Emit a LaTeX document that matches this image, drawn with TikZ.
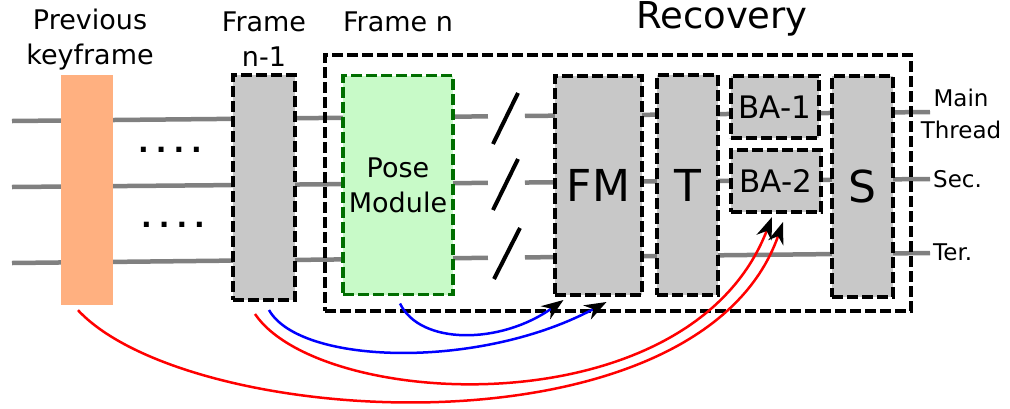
\documentclass[tikz,border=0pt]{standalone}
\usepackage{fontspec}
\setmainfont{DejaVu Sans}
\usetikzlibrary{arrows.meta,calc}
\definecolor{boxgray}{RGB}{200,200,200}
\definecolor{linegray}{RGB}{128,128,128}
\definecolor{kforange}{RGB}{255,176,128}
\definecolor{posegreen}{RGB}{200,250,200}
\definecolor{darkgreen}{RGB}{0,110,0}
\begin{document}
\begin{tikzpicture}[x=1pt,y=-1pt,
  dbox/.style={draw=black, line width=3.5pt, dash pattern=on 11pt off 4pt, fill=boxgray, inner sep=0pt, outer sep=0pt},
  wire/.style={draw=linegray, line width=4.5pt},
  slashmark/.style={draw=black, line width=4pt},
  lbl/.style={font=\fontsize{27}{35}\selectfont, align=center, inner sep=0pt},
  big/.style={font=\fontsize{44}{50}\selectfont},
  mid/.style={font=\fontsize{31}{36}\selectfont},
  outlbl/.style={font=\fontsize{23}{32}\selectfont, align=center, inner sep=0pt},
  arrowtip/.style={-{Stealth[length=22pt,width=16pt,inset=7pt,black]}},
  blueArrow/.style={draw=blue, line width=2.5pt, arrowtip},
  redArrow/.style={draw=red, line width=2.5pt, arrowtip},
  dots/.style={font=\bfseries\fontsize{28}{30}\selectfont, inner sep=0pt}
]
\useasboundingbox (0,0) rectangle (1010,408);

% wire end points
\coordinate (L1) at (12,121); \coordinate (R1) at (930,112);
\coordinate (L2) at (12,187); \coordinate (R2) at (930,179);
\coordinate (L3) at (12,263); \coordinate (R3) at (930,253);
\foreach \i in {1,2,3}{
  \coordinate (G\i a) at ($(L\i)!0.5185!(R\i)$);
  \coordinate (G\i b) at ($(L\i)!0.5588!(R\i)$);
}
\draw[wire] (L1) -- (G1a); \draw[wire] (G1b) -- (R1);
\draw[wire] (L2) -- (G2a); \draw[wire] (G2b) -- (R2);
\draw[wire] (L3) -- (G3a); \draw[wire] (G3b) -- (R3);

% slashes
\draw[slashmark] (493,144) -- (518,93);
\draw[slashmark] (493,210) -- (518,159);
\draw[slashmark] (494,279) -- (520,228);

% boxes
\node[fill=kforange, minimum width=52pt, minimum height=230pt, inner sep=0pt] (kf) at (87,190) {};
\node[dbox, minimum width=62pt, minimum height=225pt] (fn1) at (264,187.5) {};
\node[draw=black, line width=3.5pt, dash pattern=on 11pt off 4pt, minimum width=586pt, minimum height=256pt, inner sep=0pt] (rec) at (618,183) {};
\node[dbox, draw=darkgreen, fill=posegreen, minimum width=110pt, minimum height=219pt, lbl] (pose) at (398,185) {Pose\\Module};
\node[dbox, minimum width=87pt, minimum height=219pt, big] (fm) at (598.5,185.5) {FM};
\node[dbox, minimum width=61pt, minimum height=220pt, big] (t) at (687.5,185) {T};
\node[dbox, minimum width=88pt, minimum height=62pt, mid] (ba1) at (775,107) {BA-1};
\node[dbox, minimum width=90pt, minimum height=62pt, mid] (ba2) at (776,181) {BA-2};
\node[dbox, minimum width=61pt, minimum height=221pt, big] (s) at (862.5,186.5) {S};

% labels
\node[lbl] (lkf) at (90,39.5) {Previous\\keyframe};
\node[lbl] (lfn1) at (264,39.5) {Frame\\n-1};
\node[lbl] (lfn) at (398,22) {Frame n};
\node[font=\fontsize{37}{40}\selectfont, inner sep=0pt] (lrec) at (722,19) {Recovery};
\node[outlbl] (lmain) at (961,114) {Main\\Thread};
\node[outlbl, anchor=west] (lsec) at (933,179) {Sec.};
\node[outlbl, anchor=west] (lter) at (933,252) {Ter.};

% dots
\node[dots] (d1) at (170,150) {.\hspace{7pt}.\hspace{7pt}.\hspace{7pt}.};
\node[dots] (d2) at (173,225) {.\hspace{7pt}.\hspace{7pt}.\hspace{7pt}.};

% arrows
\draw[blueArrow] ($(pose.south)+(2,9)$) .. controls (420,345) and (500,345) .. ($(fm.south)+(-35,5)$);
\draw[blueArrow] ($(fn1.south)+(5,10)$) .. controls (300,365) and (480,370) .. ($(fm.south)+(8,7)$);
\draw[redArrow] ($(fn1.south)+(-9,14)$) .. controls (320,410) and (690,430) .. ($(ba2.south)+(-4,5)$);
\draw[redArrow] ($(kf.south)+(-9,5)$) .. controls (190,430) and (700,460) .. ($(ba2.south)+(7,10)$);
\end{tikzpicture}
\end{document}
